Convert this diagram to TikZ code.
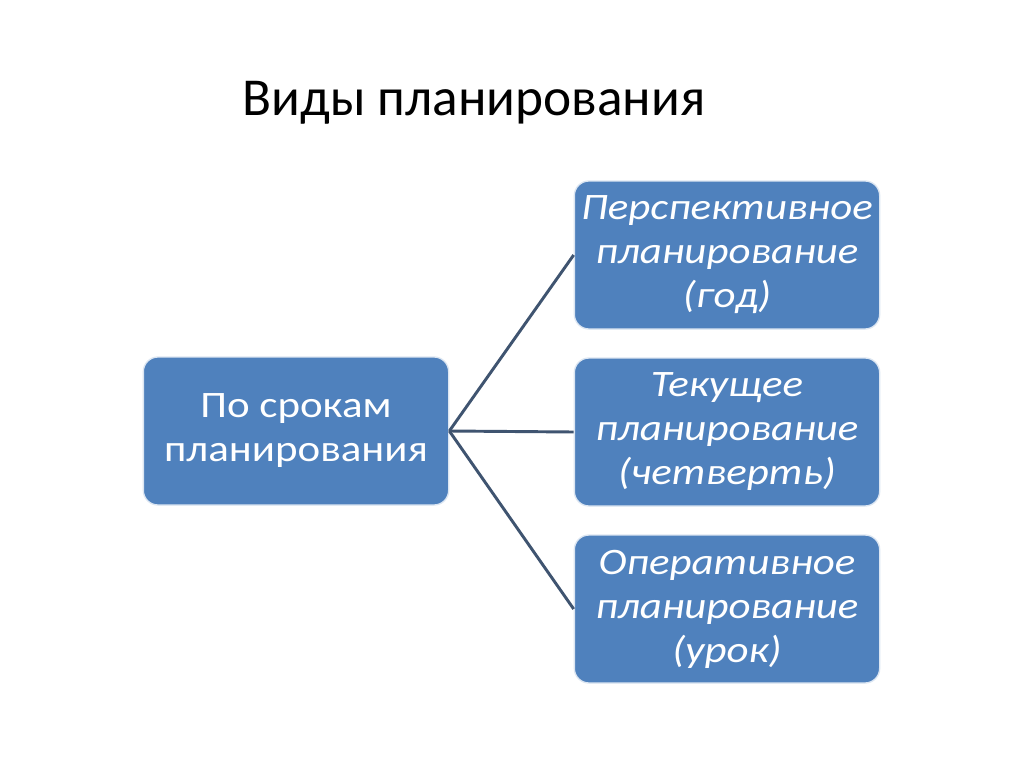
\documentclass[tikz,border=0pt]{standalone}
\usepackage{fontspec}
\setmainfont{Carlito}
\newfontfamily\boxfont[FakeStretch=1.15]{Carlito}
\usetikzlibrary{positioning}
\definecolor{boxblue}{HTML}{4F81BD}
\definecolor{linkgray}{HTML}{3F5470}
\begin{document}
\begin{tikzpicture}[x=0.75pt, y=-0.75pt,
    planbox/.style={draw=white!80!boxblue, line width=1pt, fill=boxblue,
      rounded corners=11pt, text=white, align=center, inner sep=0pt,
      minimum width=229pt, minimum height=111pt,
      font=\boxfont\fontsize{28}{33}\selectfont},
    kindbox/.style={planbox, font=\boxfont\itshape\fontsize{28}{33}\selectfont},
    link/.style={draw=linkgray, line width=2.2pt}]
    \useasboundingbox[fill=white] (0,0) rectangle (1024,767);

    \node[anchor=base, font=\fontsize{40}{46}\selectfont] (title) at (474,115) {Виды планирования};

    \node[planbox] (terms) at (296,431) {По срокам\\планирования};

    \node[kindbox] (long) at (727,255) {Перспективное\\планирование\\(год)};
    \node[kindbox] (current) at (727,432) {Текущее\\планирование\\(четверть)};
    \node[kindbox] (oper) at (727,609) {Оперативное\\планирование\\(урок)};

    \draw[link] (terms.east) -- (long.west);
    \draw[link] (terms.east) -- (current.west);
    \draw[link] (terms.east) -- (oper.west);
\end{tikzpicture}
\end{document}
